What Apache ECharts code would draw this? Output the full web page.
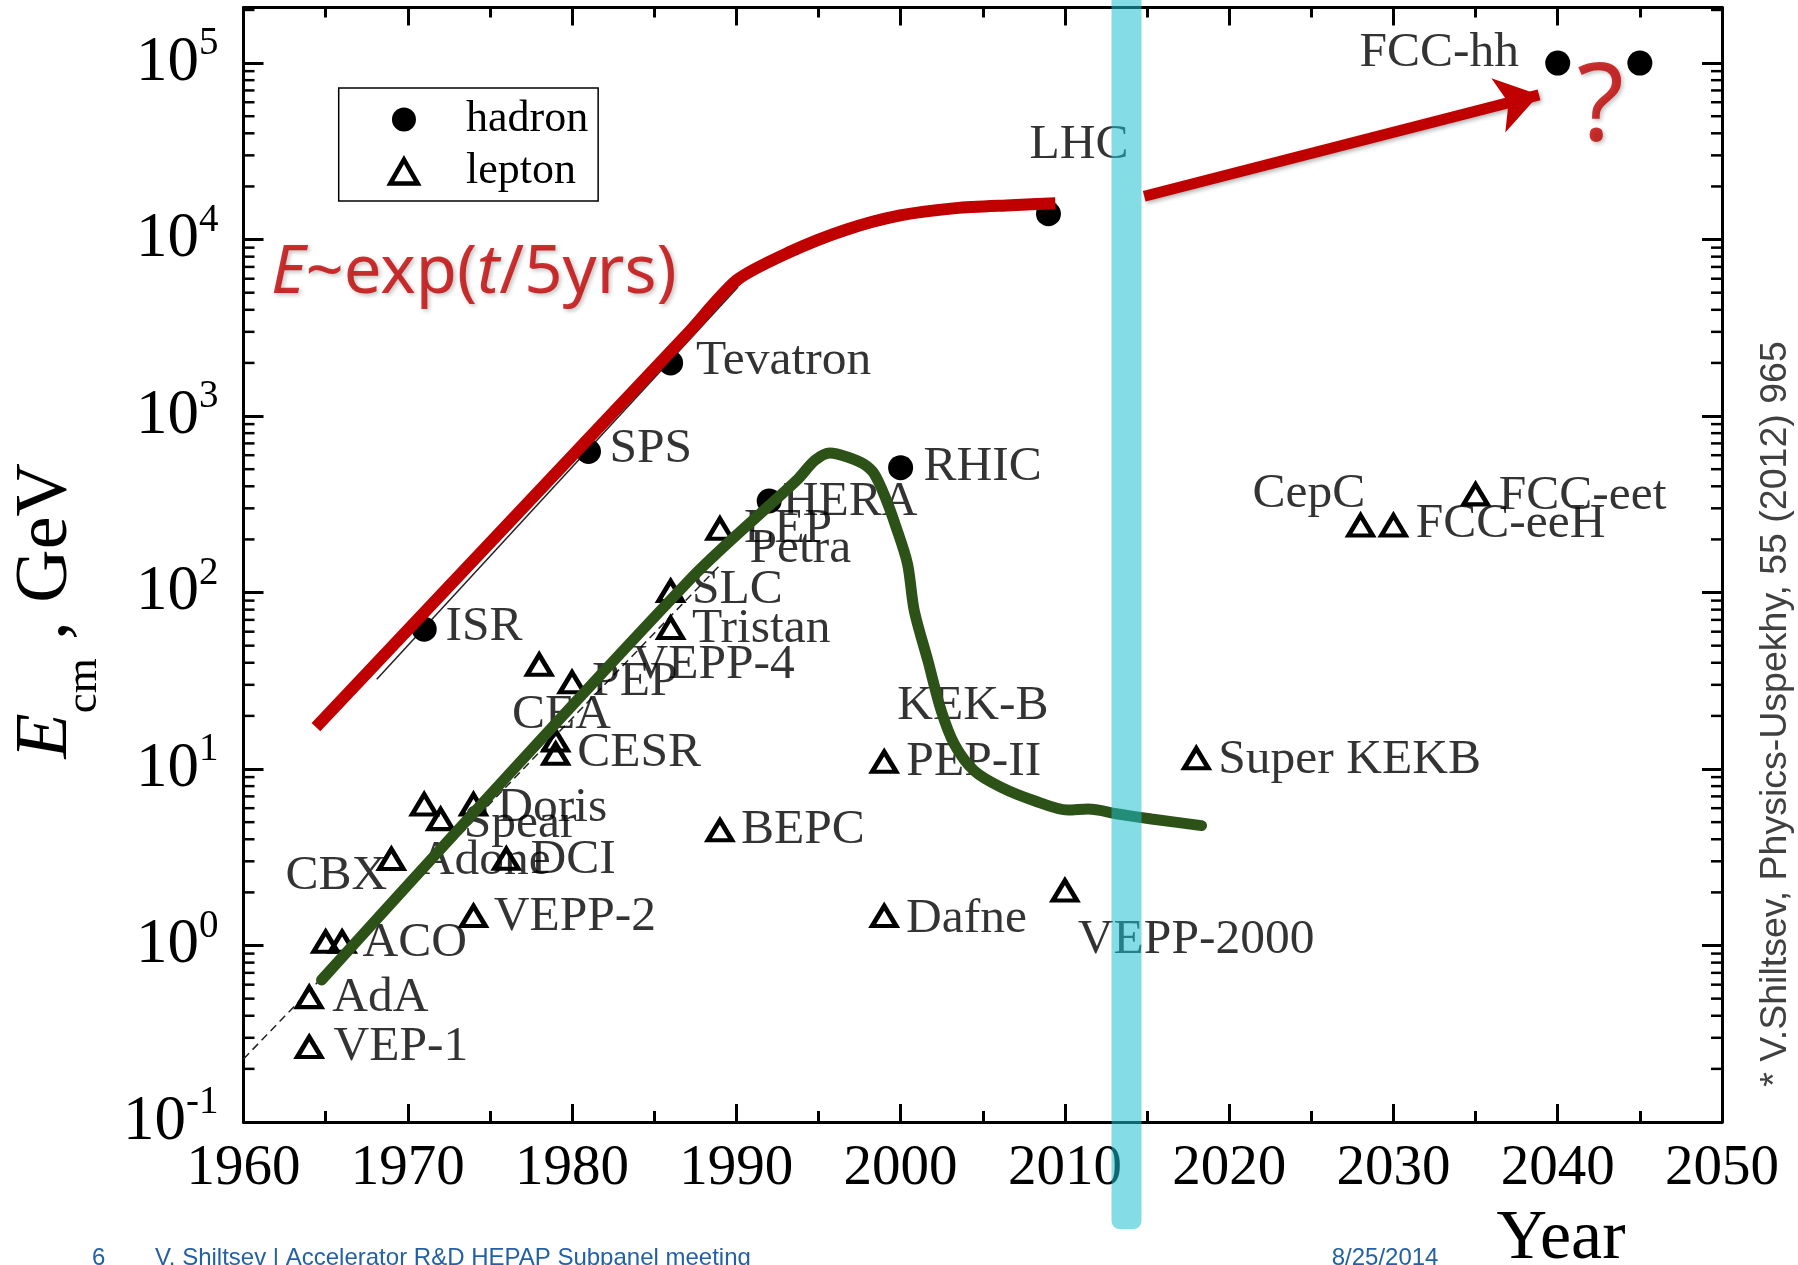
<!DOCTYPE html>
<html>
<head>
<meta charset="utf-8">
<script src="https://cdn.jsdelivr.net/npm/echarts@6/dist/echarts.min.js"></script>
<style>html,body{margin:0;padding:0;background:#fff}#c{width:1798px;height:1265px}</style>
</head>
<body>
<div id="c"></div>
<script>
// ---------- data ----------
const yearMin = 1960, yearMax = 2050, yearStep = 10;
const energyMin = 0.1, energyMax = 206500;

const hadronName   = ['ISR', 'SPS', 'Tevatron', 'HERA', 'RHIC', 'LHC', 'FCC-hh', 'FCC-hh'];
const hadronYear   = [1971, 1981, 1986, 1992, 2000, 2009, 2040, 2045];
const hadronEnergy = [62, 630, 2000, 330, 510, 14000, 100000, 100000];

const leptonYear   = [1964, 1964, 1965, 1966, 1969, 1971, 1972, 1974, 1974, 1976, 1978, 1980, 1979, 1979, 1986, 1986, 1989, 1989, 1999, 1999, 2010, 2018, 2028, 2030, 2035];
const leptonEnergy = [0.51, 0.266, 1.05, 1.05, 3.09, 6.3, 5.2, 6.3, 1.47, 3.1, 39, 31, 14.5, 12.2, 63, 102, 230, 4.5, 11, 1.47, 2.05, 11.5, 240, 240, 360];

// text labels placed at data coordinates (left edge, vertical middle)
const labelText   = ['ISR','SPS','Tevatron','HERA','RHIC','LHC','FCC-hh','LEP','Petra','SLC','Tristan','VEPP-4','PEP','CEA','CESR','Doris','Spear','Adone','DCI','CBX','VEPP-2','ACO','AdA','VEP-1','BEPC','KEK-B','PEP-II','Dafne','VEPP-2000','Super KEKB','CepC','FCC-eeH','FCC-eet'];
const labelYear   = [1972.26,1982.25,1987.51,1992.80,2001.36,2007.81,2027.90,1990.44,1990.77,1987.27,1987.27,1983.65,1981.19,1976.32,1980.28,1975.41,1973.38,1970.64,1977.44,1962.53,1975.20,1967.21,1965.37,1965.45,1990.25,1999.76,2000.32,2000.30,2010.76,2019.31,2021.39,2031.33,2036.38];
const labelEnergy = [63.4,651,2061,326,516,34360,114800,229,176.6,102.8,61.8,38.9,31.0,20.3,12.4,6.0,4.89,3.03,3.05,2.48,1.459,1.034,0.507,0.2664,4.52,22.9,10.9,1.408,1.076,11.26,362,246,352.6];

// hand-drawn trend curves
const hadronTrendYear   = [1964.41, 1987.0, 1990.04, 1993.21, 1996.59, 1999.97, 2003.36, 2006.74, 2009.42];
const hadronTrendEnergy = [17.3, 2911, 5900, 8470, 11300, 13700, 15070, 15660, 16070];
const leptonTrendYear   = [1964.75, 1987.12, 1993.66, 1994.79, 1995.69, 1996.80, 1997.72, 1998.39, 1999.06, 1999.73, 2000.42, 2000.83, 2001.66, 2002.47, 2003.26, 2004.48, 2006.13, 2008.14, 2010.19, 2011.41, 2013.24, 2015.27, 2018.32];
const leptonTrendEnergy = [0.638, 117, 431, 561, 617, 585, 537, 471, 347, 234, 145.5, 79, 41.1, 21.4, 13.9, 9.78, 7.87, 6.61, 5.85, 5.93, 5.56, 5.21, 4.78];

// original fit lines of the figure
const hadronFitYear   = [1968.11, 1990.10];
const hadronFitEnergy = [32.3, 5380];
const leptonFitYear   = [1960, 1989];
const leptonFitEnergy = [0.2275, 143];

// arrow towards the future
const arrowYear   = [2014.83, 2038.86];
const arrowEnergy = [17600, 66100];

// present-day marker
const todayYear = 2013.75;

// annotation text
const trendNote = { year: 1961.65, energy: 6410 };
const questionNote = { year: 2042.6, energy: 54800 };

// ---------- helpers ----------
const pairs = (xs, ys) => xs.map((x, i) => [x, ys[i]]);
const minorVals = [];
for (let k = -1; k <= 5; k++) for (let m = 2; m <= 9; m++) { const v = m * Math.pow(10, k); if (v < energyMax) minorVals.push(v); }

const serif = '"Liberation Serif", "Times New Roman", serif';
const sans = '"Liberation Sans", Arial, sans-serif';
const noto = '"Noto Sans", "Open Sans", sans-serif';
const red = '#c00000';
const green = '#2d5217';

const chart = echarts.init(document.getElementById('c'), null, { renderer: 'canvas' });

const option = {
  animation: false,
  backgroundColor: '#fff',
  grid: { left: 243.5, right: 76, top: 7.5, bottom: 143, containLabel: false, outerBoundsMode: 'none' },
  legend: {
    show: true,
    orient: 'vertical',
    left: 338.7, top: 88,
    padding: [9.6, 10, 7.5, 49.3],
    itemWidth: 114, itemHeight: 24, itemGap: 8,
    symbolKeepAspect: true,
    borderColor: '#000', borderWidth: 1.5,
    selectedMode: false,
    textStyle: { fontFamily: serif, fontSize: 44, color: '#000' },
    data: [
      { name: 'hadron', itemStyle: { color: '#000', borderWidth: 0 } },
      { name: 'lepton', icon: 'path://M12,0L24,21L0,21Z', itemStyle: { color: 'rgba(0,0,0,0)', borderColor: '#000', borderWidth: 4.5 } }
    ]
  },
  xAxis: [
    {
      type: 'value', min: yearMin, max: yearMax, interval: yearStep, position: 'bottom',
      axisLine: { show: true, onZero: false, lineStyle: { color: '#000', width: 3 } },
      axisTick: { show: true, inside: true, length: 18, lineStyle: { color: '#000', width: 3 } },
      minorTick: { show: true, splitNumber: 2, length: 11, lineStyle: { color: '#000', width: 3 } },
      splitLine: { show: false },
      axisLabel: { show: true, margin: 19, fontFamily: serif, fontSize: 57, color: '#000', formatter: v => String(v) }
    },
    {
      type: 'value', min: yearMin, max: yearMax, interval: yearStep, position: 'top',
      axisLine: { show: true, onZero: false, lineStyle: { color: '#000', width: 3 } },
      axisTick: { show: true, inside: true, length: 18, lineStyle: { color: '#000', width: 3 } },
      minorTick: { show: true, splitNumber: 2, length: 10, lineStyle: { color: '#000', width: 3 } },
      splitLine: { show: false },
      axisLabel: { show: false }
    }
  ],
  yAxis: [
    {
      type: 'log', logBase: 10, min: energyMin, max: energyMax, position: 'left',
      axisLine: { show: true, onZero: false, lineStyle: { color: '#000', width: 3 } },
      axisTick: { show: true, inside: true, length: 20, lineStyle: { color: '#000', width: 3 } },
      minorTick: { show: false },
      splitLine: { show: false },
      axisLabel: {
        show: true, margin: 25, color: '#000',
        formatter: v => {
          const l = Math.log10(v), e = Math.round(l);
          if (Math.abs(l - e) > 1e-6) return '';
          return '{b|10}{s|' + e + '}';
        },
        rich: {
          b: { fontFamily: serif, fontSize: 63, lineHeight: 90, verticalAlign: 'middle', color: '#000' },
          s: { fontFamily: serif, fontSize: 39, lineHeight: 39, verticalAlign: 'middle', padding: [0, 0, 38, 0], color: '#000' }
        }
      },
      name: '{e|E}{s|cm}{n| , GeV}',
      nameLocation: 'middle', nameRotate: 90, nameGap: 150,
      nameTextStyle: {
        padding: [0, 92, 0, 0],
        rich: {
          e: { fontFamily: serif, fontStyle: 'italic', fontSize: 74, lineHeight: 94, verticalAlign: 'middle', color: '#000' },
          s: { fontFamily: serif, fontSize: 45, lineHeight: 14, verticalAlign: 'middle', padding: [76, 0, 0, 0], color: '#000' },
          n: { fontFamily: serif, fontSize: 74, lineHeight: 94, verticalAlign: 'middle', color: '#000' }
        }
      }
    },
    {
      type: 'log', logBase: 10, min: energyMin, max: energyMax, position: 'right',
      axisLine: { show: true, onZero: false, lineStyle: { color: '#000', width: 3 } },
      axisTick: { show: true, inside: true, length: 20, lineStyle: { color: '#000', width: 3 } },
      minorTick: { show: false },
      splitLine: { show: false },
      axisLabel: { show: false }
    }
  ],
  graphic: [
    { type: 'text', x: 1561, y: 1240, z: 10, style: { text: 'Year', fontFamily: serif, fontSize: 70, fill: '#000', align: 'center', verticalAlign: 'middle' } },
    { type: 'text', x: 1776, y: 714, rotation: Math.PI / 2, z: 10, style: { text: '* V.Shiltsev, Physics-Uspekhy, 55 (2012) 965', fontFamily: sans, fontSize: 37.5, fill: '#404040', align: 'center', verticalAlign: 'middle' } },
    { type: 'text', x: 92, y: 1258, z: 10, style: { text: '6', fontFamily: sans, fontSize: 24, fill: '#2360a5', align: 'left', verticalAlign: 'middle' } },
    { type: 'text', x: 155, y: 1258, z: 10, style: { text: 'V. Shiltsev | Accelerator R&D HEPAP Subpanel meeting', fontFamily: sans, fontSize: 24, fill: '#2360a5', align: 'left', verticalAlign: 'middle' } },
    { type: 'text', x: 1331.7, y: 1258, z: 10, style: { text: '8/25/2014', fontFamily: sans, fontSize: 24, fill: '#2360a5', align: 'left', verticalAlign: 'middle' } }
  ],
  series: [
    {
      name: 'logMinorTicks', type: 'custom', z: 1, silent: true, clip: false,
      data: minorVals.map(v => [yearMin, v]),
      encode: { x: 0, y: 1 },
      renderItem: (params, api) => {
        const v = api.value(1);
        const l = api.coord([yearMin, v]);
        const r = api.coord([yearMax, v]);
        return { type: 'group', children: [
          { type: 'line', shape: { x1: l[0], y1: l[1], x2: l[0] + 11, y2: l[1] }, style: { stroke: '#000', lineWidth: 2.5 } },
          { type: 'line', shape: { x1: r[0] - 11, y1: r[1], x2: r[0], y2: r[1] }, style: { stroke: '#000', lineWidth: 2.5 } }
        ] };
      }
    },
    {
      name: 'hadron', type: 'scatter', z: 2,
      symbol: 'circle', symbolSize: 25,
      itemStyle: { color: '#000', opacity: 1 },
      data: hadronYear.map((y, i) => ({ name: hadronName[i], value: [y, hadronEnergy[i]] }))
    },
    {
      name: 'lepton', type: 'scatter', z: 2,
      symbol: 'triangle', symbolSize: [24, 20],
      itemStyle: { color: 'rgba(0,0,0,0)', borderColor: '#000', borderWidth: 4.5, opacity: 1 },
      data: pairs(leptonYear, leptonEnergy)
    },
    {
      name: 'labels', type: 'scatter', z: 2, silent: true,
      symbol: 'circle', symbolSize: 1,
      itemStyle: { color: 'rgba(0,0,0,0)' },
      label: { show: true, position: 'right', distance: 0, offset: [-9, 5], formatter: p => p.name, fontFamily: serif, fontSize: 49.5, color: '#000', align: 'left', verticalAlign: 'middle' },
      labelLayout: { hideOverlap: false },
      data: labelText.map((t, i) => ({ name: t, value: [labelYear[i], labelEnergy[i]] }))
    },
    {
      name: 'hadronFit', type: 'line', z: 2, silent: true,
      symbol: 'none', lineStyle: { color: '#222', width: 1.5 },
      data: pairs(hadronFitYear, hadronFitEnergy)
    },
    {
      name: 'leptonFit', type: 'line', z: 2, silent: true,
      symbol: 'none', lineStyle: { color: '#222', width: 1.5, type: [8, 5] },
      data: pairs(leptonFitYear, leptonFitEnergy)
    },
    {
      name: 'hadronTrend', type: 'line', z: 3, silent: true,
      symbol: 'none', smooth: 0.25,
      lineStyle: { color: red, width: 12, cap: 'butt' },
      data: pairs(hadronTrendYear, hadronTrendEnergy)
    },
    {
      name: 'leptonTrend', type: 'line', z: 3, silent: true,
      symbol: 'none', smooth: 0.3,
      lineStyle: { color: green, width: 11, cap: 'round' },
      data: pairs(leptonTrendYear, leptonTrendEnergy)
    },
    {
      name: 'arrow', type: 'lines', coordinateSystem: 'cartesian2d', z: 3, silent: true,
      symbol: ['none', 'arrow'], symbolSize: [38, 42],
      lineStyle: { color: red, width: 11, opacity: 1, curveness: 0, shadowBlur: 4, shadowColor: 'rgba(0,0,0,0.3)', shadowOffsetX: 2, shadowOffsetY: 2 },
      itemStyle: { color: red },
      data: [{ coords: pairs(arrowYear, arrowEnergy) }]
    },
    {
      name: 'notes', type: 'scatter', z: 4, silent: true,
      symbol: 'circle', symbolSize: 1, itemStyle: { color: 'rgba(0,0,0,0)' },
      labelLayout: { hideOverlap: false },
      data: [
        {
          name: 'trend', value: [trendNote.year, trendNote.energy],
          label: {
            show: true, position: 'right', distance: 0, align: 'left', verticalAlign: 'middle',
            formatter: '{i|E}{n|~exp(}{i|t}{n|/5yrs)}',
            textShadowColor: 'rgba(0,0,0,0.3)', textShadowBlur: 4, textShadowOffsetX: 2, textShadowOffsetY: 2,
            rich: {
              i: { fontFamily: noto, fontStyle: 'italic', fontSize: 67, color: red },
              n: { fontFamily: noto, fontSize: 67, color: red }
            }
          }
        },
        {
          name: '?', value: [questionNote.year, questionNote.energy],
          label: {
            show: true, position: 'inside', align: 'center', verticalAlign: 'middle',
            formatter: '?', fontFamily: noto, fontSize: 108, color: red,
            textShadowColor: 'rgba(0,0,0,0.3)', textShadowBlur: 4, textShadowOffsetX: 2, textShadowOffsetY: 2
          }
        }
      ]
    },
    {
      name: 'today', type: 'custom', z: 10, silent: true, clip: false,
      data: [[todayYear, 1]],
      encode: { x: 0, y: 1 },
      renderItem: (params, api) => {
        const c = api.coord([api.value(0), api.value(1)]);
        const bottom = api.coord([yearMin, energyMin])[1];
        return {
          type: 'rect',
          shape: { x: c[0] - 15, y: 0, width: 30, height: bottom + 107, r: [0, 0, 8, 8] },
          style: { fill: 'rgba(27,192,205,0.54)' }
        };
      }
    }
  ]
};

chart.setOption(option);
</script>
</body>
</html>
